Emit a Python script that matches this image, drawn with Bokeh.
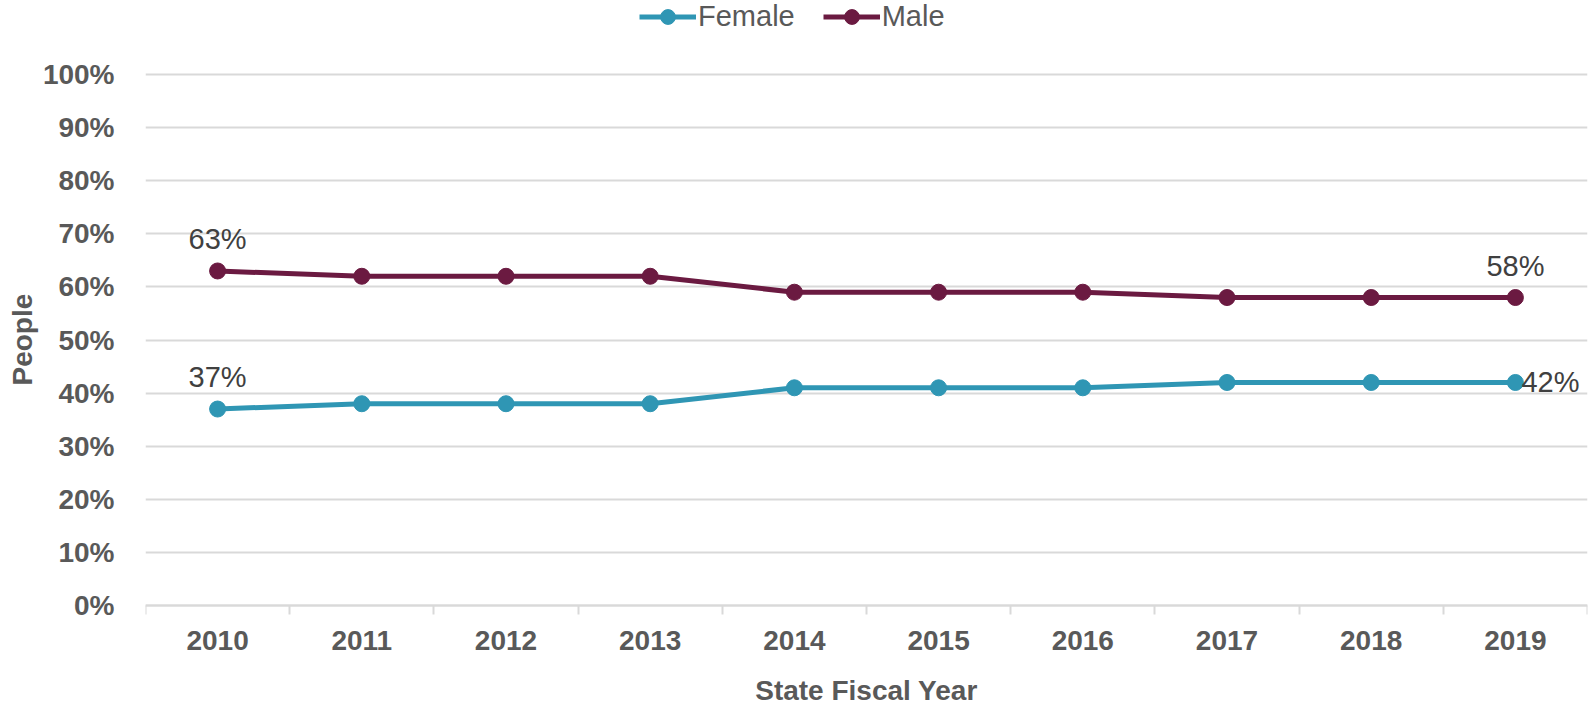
from bokeh.plotting import figure
from bokeh.models import Range1d, FixedTicker, PrintfTickFormatter, Legend, LegendItem, ColumnDataSource, Title
from bokeh.core.properties import value
from bokeh.embed import file_html
from bokeh.resources import INLINE

years = ["2010", "2011", "2012", "2013", "2014", "2015", "2016", "2017", "2018", "2019"]
female = [37, 38, 38, 38, 41, 41, 41, 42, 42, 42]
male = [63, 62, 62, 62, 59, 59, 59, 58, 58, 58]
y_ticks = [0, 10, 20, 30, 40, 50, 60, 70, 80, 90, 100]

FEMALE_C = "#2F96B4"
MALE_C = "#6B1A41"
TEXT_C = "#595959"
LABEL_C = "#404040"
GRID_C = "#D9D9D9"
FONT = "Liberation Sans"

xs = [i + 0.5 for i in range(len(years))]

# The frame covers the full canvas height (so legend and axis title are not clipped);
# the 0..100 value span occupies 531 px, with 74 px above it and 102 px below it.
H = 707
TOP_PAD = 74
BOTTOM_PAD = 102
AXIS_H = H - TOP_PAD - BOTTOM_PAD
ppu = AXIS_H / y_ticks[-1]
y_lo = -BOTTOM_PAD / ppu
y_hi = y_ticks[-1] + TOP_PAD / ppu

p = figure(width=1589, height=H, output_backend="svg", toolbar_location=None,
           x_range=Range1d(0, len(years)), y_range=Range1d(y_lo, y_hi),
           min_border_left=145, min_border_right=2, min_border_top=0, min_border_bottom=0)
p.outline_line_color = None
p.background_fill_color = "white"
p.border_fill_color = "white"

src = ColumnDataSource(dict(x=xs, female=female, male=male))

fl = p.line("x", "female", source=src, line_color=FEMALE_C, line_width=5)
fs = p.scatter("x", "female", source=src, size=16, fill_color=FEMALE_C, line_color=FEMALE_C)
ml = p.line("x", "male", source=src, line_color=MALE_C, line_width=5)
ms = p.scatter("x", "male", source=src, size=16, fill_color=MALE_C, line_color=MALE_C)

# data labels
first = ColumnDataSource(dict(x=[xs[0], xs[0]], y=[female[0], male[0]],
                              t=[f"{female[0]}%", f"{male[0]}%"]))
p.text("x", "y", text="t", source=first, text_align="center", text_baseline="bottom",
       y_offset=-16, text_font=value(FONT), text_font_size="29px", text_color=LABEL_C)
lastm = ColumnDataSource(dict(x=[xs[-1]], y=[male[-1]], t=[f"{male[-1]}%"]))
p.text("x", "y", text="t", source=lastm, text_align="center", text_baseline="bottom",
       y_offset=-16, text_font=value(FONT), text_font_size="29px", text_color=LABEL_C)
lastf = ColumnDataSource(dict(x=[xs[-1]], y=[female[-1]], t=[f"{female[-1]}%"]))
p.text("x", "y", text="t", source=lastf, text_align="left", text_baseline="middle",
       x_offset=6, text_font=value(FONT), text_font_size="29px", text_color=LABEL_C)

# x axis, drawn at the 0 value line
xa = p.xaxis[0]
xa.fixed_location = 0
xa.ticker = FixedTicker(ticks=xs, minor_ticks=list(range(len(years) + 1)))
xa.major_label_overrides = {x: y for x, y in zip(xs, years)}
xa.axis_line_color = GRID_C
xa.axis_line_width = 2
xa.major_tick_line_color = None
xa.major_tick_out = 0
xa.major_tick_in = 0
xa.minor_tick_line_color = GRID_C
xa.minor_tick_line_width = 2
xa.minor_tick_out = 9
xa.minor_tick_in = 0
xa.major_label_standoff = 16
xa.axis_label = "State Fiscal Year"
xa.axis_label_standoff = 22

# y axis
ya = p.yaxis[0]
ya.ticker = FixedTicker(ticks=y_ticks)
ya.formatter = PrintfTickFormatter(format="%d%%")
ya.axis_line_color = None
ya.major_tick_line_color = None
ya.minor_tick_line_color = None
ya.major_label_standoff = 25

# y axis title, placed along the 0..100 part of the frame
p.add_layout(Title(text="People", align="left", offset=BOTTOM_PAD + 220, standoff=4,
                   text_font=FONT, text_font_style="bold", text_font_size="28px",
                   text_color=TEXT_C), "left")

for ax in [xa, ya]:
    ax.major_label_text_font = FONT
    ax.major_label_text_font_style = "bold"
    ax.major_label_text_font_size = "28px"
    ax.major_label_text_color = TEXT_C
    ax.axis_label_text_font = FONT
    ax.axis_label_text_font_style = "bold"
    ax.axis_label_text_font_size = "28px"
    ax.axis_label_text_color = TEXT_C

p.xgrid.grid_line_color = None
p.ygrid.ticker = FixedTicker(ticks=y_ticks)
p.ygrid.grid_line_color = GRID_C
p.ygrid.grid_line_width = 2

legend = Legend(items=[LegendItem(label="Female", renderers=[fl, fs]),
                       LegendItem(label="Male", renderers=[ml, ms])],
                location=(494, H - 35), orientation="horizontal",
                label_text_font=FONT, label_text_font_size="29px", label_text_color=TEXT_C,
                glyph_width=57, glyph_height=37, label_standoff=2, spacing=28,
                padding=0, margin=0, border_line_color=None, background_fill_alpha=0)
p.add_layout(legend, "center")

open("out.html", "w").write(file_html(p, INLINE))
